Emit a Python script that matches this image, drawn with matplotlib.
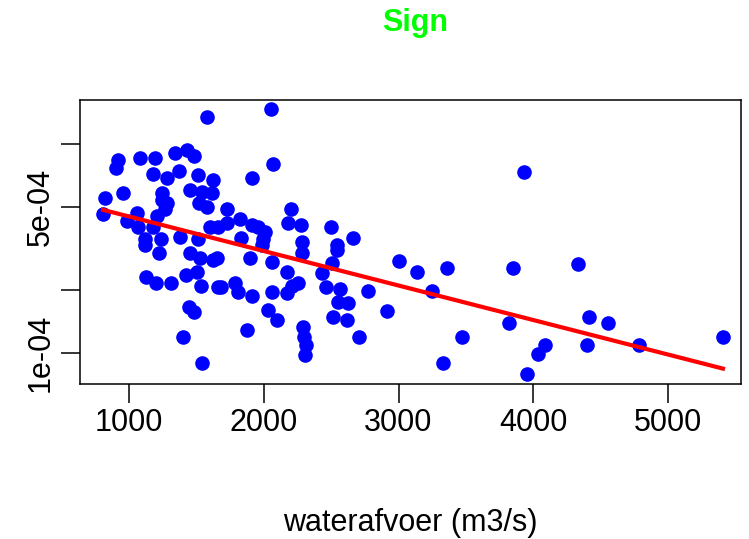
import numpy as np
import matplotlib
matplotlib.use("Agg")
import matplotlib.pyplot as plt
from matplotlib.ticker import FixedLocator, FixedFormatter, NullLocator

plt.rcParams['font.family'] = ['Liberation Sans', 'DejaVu Sans']

# waterafvoer (m3/s)
discharge = [1579, 918, 904, 1082, 1193, 1341, 1430, 1482, 1178, 1282, 1371, 1512, 1623,
             822, 955, 1245, 1245, 1282, 1267, 1453, 1542, 1616, 1519, 1579, 807, 985, 1059,
             1067, 1208, 1178, 1119, 1237, 1378, 1512, 1601, 1660, 1119, 1223, 1453, 1527,
             1623, 1126, 1200, 1312, 1423, 1505, 1534, 1660, 1445, 1482, 1401, 1542,
             2054, 2069, 1913, 1727, 2202, 1727, 1824, 1913, 1957, 2009, 2180, 2276, 2284,
             2499, 2662, 1831, 1994, 2544, 1653, 1683, 1787, 1809, 1913, 1898, 1987, 2061,
             2172, 2284, 2210, 2172, 2254, 2061, 2031, 2098, 1876, 2291, 2299, 2313, 2306,
             2432, 2462, 2506, 2544, 2566, 2551, 2625, 2514, 2618, 2707,
             2774, 2915, 3004, 3137, 3360, 3249, 3471, 3330, 3850, 3820, 3954, 3931, 4332,
             4414, 4555, 4087, 4035, 4399, 4785, 5408]

sign = [1.35e-3, 8.4e-4, 7.7e-4, 8.6e-4, 8.6e-4, 9.1e-4, 9.4e-4, 8.8e-4, 7.2e-4, 6.9e-4,
        7.4e-4, 7.1e-4, 6.7e-4, 5.5e-4, 5.8e-4, 5.8e-4, 5.4e-4, 5.2e-4, 4.9e-4, 6.0e-4,
        5.9e-4, 5.8e-4, 5.2e-4, 5.0e-4, 4.6e-4, 4.3e-4, 4.7e-4, 4.0e-4, 4.5e-4, 4.0e-4,
        3.5e-4, 3.5e-4, 3.6e-4, 3.5e-4, 4.0e-4, 4.0e-4, 3.3e-4, 3.0e-4, 3.0e-4, 2.85e-4,
        2.8e-4, 2.3e-4, 2.16e-4, 2.16e-4, 2.36e-4, 2.44e-4, 2.1e-4, 2.07e-4, 1.66e-4,
        1.57e-4, 1.19e-4, 8.96e-5,
        1.47e-3, 8.0e-4, 6.9e-4, 4.9e-4, 4.9e-4, 4.2e-4, 4.4e-4, 4.1e-4, 4.0e-4, 3.8e-4,
        4.2e-4, 4.1e-4, 3.4e-4, 4.0e-4, 3.55e-4, 3.55e-4, 3.5e-4, 3.3e-4, 2.85e-4,
        2.07e-4, 2.16e-4, 1.96e-4, 1.87e-4, 2.85e-4, 3.3e-4, 2.72e-4, 2.44e-4, 3.0e-4,
        2.1e-4, 1.94e-4, 2.16e-4, 1.96e-4, 1.61e-4, 1.44e-4, 1.29e-4, 1.33e-4, 1.19e-4,
        1.09e-4, 9.8e-5, 2.41e-4, 2.07e-4, 2.7e-4, 3.1e-4, 2.02e-4, 1.75e-4, 1.73e-4,
        1.49e-4, 1.44e-4, 1.19e-4,
        1.98e-4, 1.59e-4, 2.75e-4, 2.44e-4, 2.55e-4, 1.98e-4, 1.19e-4, 8.96e-5, 2.55e-4,
        1.39e-4, 7.9e-5, 7.35e-4, 2.67e-4, 1.49e-4, 1.39e-4, 1.09e-4, 9.9e-5, 1.09e-4,
        1.09e-4, 1.19e-4]

x_ticks = [1000, 2000, 3000, 4000, 5000]
x_tick_labels = ["1000", "2000", "3000", "4000", "5000"]
y_ticks = [1e-4, 2e-4, 5e-4, 1e-3]
y_tick_labels = ["1e-04", "", "5e-04", ""]

x = np.array(discharge, dtype=float)
y = np.array(sign, dtype=float)

# exponential fit (linear on log scale)
slope, intercept = np.polyfit(x, np.log10(y), 1)
xf = np.array([x.min(), x.max()])
yf = 10 ** (intercept + slope * xf)

fig = plt.figure(figsize=(7.49, 5.39), dpi=100)
ax = fig.add_axes([80/749, 1 - 384/539, 661/749, 284/539])

ax.plot(x, y, 'o', color='#0000FF', markersize=10.5, markeredgewidth=0, zorder=2)
ax.plot(xf, yf, color='#FF0000', linewidth=3, zorder=3)

ax.set_yscale('log')
ax.set_xlim(636, 5542)
ax.set_ylim(7.11e-5, 1.623e-3)

ax.xaxis.set_major_locator(FixedLocator(x_ticks))
ax.xaxis.set_major_formatter(FixedFormatter(x_tick_labels))
ax.xaxis.set_minor_locator(NullLocator())
ax.yaxis.set_major_locator(FixedLocator(y_ticks))
ax.yaxis.set_major_formatter(FixedFormatter(y_tick_labels))
ax.yaxis.set_minor_locator(NullLocator())

ax.tick_params(axis='both', direction='out', length=13.5, width=1.1, labelsize=22)
ax.tick_params(axis='x', pad=4)
ax.tick_params(axis='y', pad=4)
for lbl in ax.get_yticklabels():
    lbl.set_rotation(90)
    lbl.set_va('center')

for sp in ax.spines.values():
    sp.set_linewidth(1.1)
    sp.set_color('black')

ax.set_xlabel("waterafvoer (m3/s)", fontsize=22, labelpad=50)
fig.text(415/749, 1 - 23/539, "Sign", color='#00FF00', fontsize=22,
         fontweight='bold', ha='center', va='center')

fig.savefig("out.png", dpi=100)
